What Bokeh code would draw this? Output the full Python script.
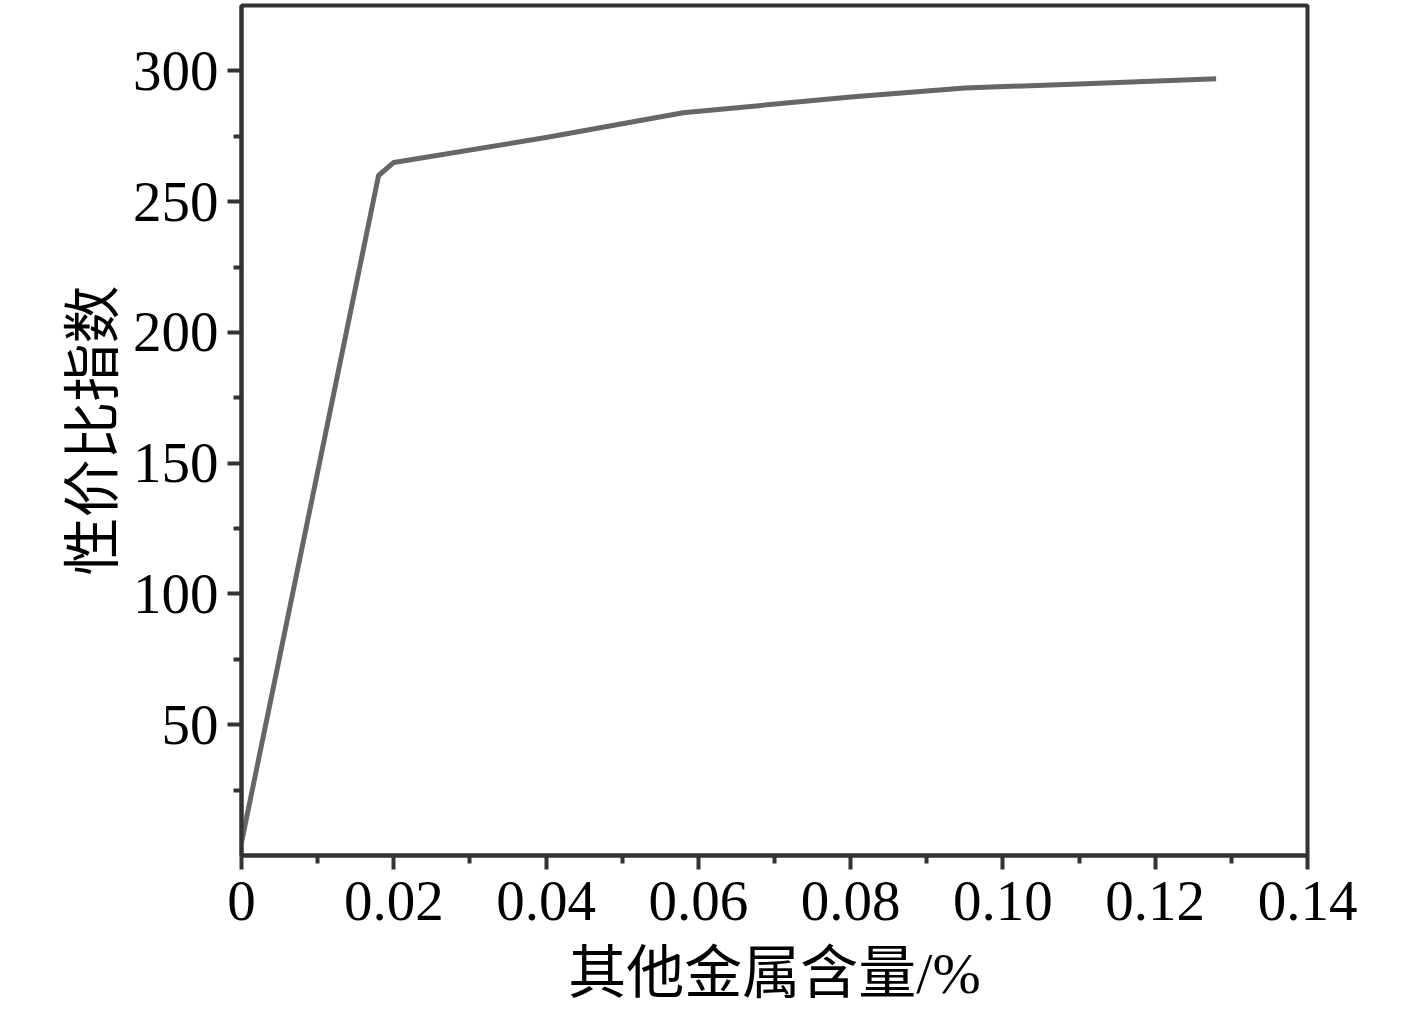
from bokeh.plotting import figure
from bokeh.models import Range1d, FixedTicker
from bokeh.embed import file_html
from bokeh.resources import INLINE

# data
metal_content = [0.0, 0.018, 0.020, 0.040, 0.058, 0.080, 0.095, 0.110, 0.128]
cost_index = [5, 260, 265, 274.5, 284, 290, 293.5, 295, 297]

x_ticks = [0.0, 0.02, 0.04, 0.06, 0.08, 0.10, 0.12, 0.14]
x_tick_labels = ["0", "0.02", "0.04", "0.06", "0.08", "0.10", "0.12", "0.14"]
x_minor = [0.01, 0.03, 0.05, 0.07, 0.09, 0.11, 0.13]
y_ticks = [50, 100, 150, 200, 250, 300]
y_tick_labels = ["50", "100", "150", "200", "250", "300"]
y_minor = [25, 75, 125, 175, 225, 275]

x_label = "其他金属含量/%"
y_label = "性价比指数"

SERIF = "'Liberation Serif', 'Noto Sans CJK SC', serif"
AX = "#333333"

p = figure(width=1400, height=1010, output_backend="svg", toolbar_location=None,
           x_range=Range1d(0, 0.14), y_range=Range1d(0, 325),
           min_border_left=241, min_border_right=93, min_border_top=5, min_border_bottom=155)

p.line(metal_content, cost_index, line_color="#666666", line_width=5, line_join="round")

p.grid.visible = False
p.outline_line_color = AX
p.outline_line_width = 4
p.background_fill_color = "white"
p.border_fill_color = "white"

p.xaxis.ticker = FixedTicker(ticks=x_ticks, minor_ticks=x_minor)
p.xaxis.major_label_overrides = dict(zip(x_ticks, x_tick_labels))
p.yaxis.ticker = FixedTicker(ticks=y_ticks, minor_ticks=y_minor)
p.yaxis.major_label_overrides = dict(zip(y_ticks, y_tick_labels))

for ax in (p.xaxis, p.yaxis):
    ax.axis_line_color = AX
    ax.axis_line_width = 4
    ax.major_tick_line_color = AX
    ax.major_tick_line_width = 4
    ax.minor_tick_line_color = AX
    ax.minor_tick_line_width = 4
    ax.major_tick_in = 0
    ax.major_tick_out = 14
    ax.minor_tick_in = 0
    ax.minor_tick_out = 8
    ax.major_label_text_font = SERIF
    ax.major_label_text_font_size = "57px"
    ax.major_label_text_color = "black"
    ax.axis_label_text_font = SERIF
    ax.axis_label_text_font_size = "58px"
    ax.axis_label_text_font_style = "normal"
    ax.axis_label_text_color = "black"

p.xaxis.axis_label = x_label
p.yaxis.axis_label = y_label
p.xaxis.major_label_standoff = 12
p.yaxis.major_label_standoff = 9
p.xaxis.axis_label_standoff = 18
p.yaxis.axis_label_standoff = 4

open("out.html", "w").write(file_html(p, INLINE))
